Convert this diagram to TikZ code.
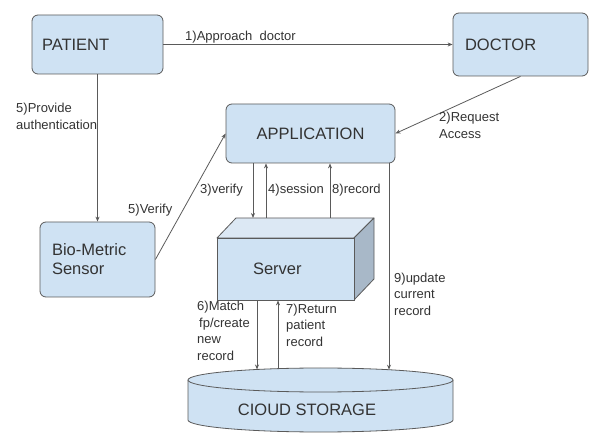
\documentclass[tikz,border=0pt]{standalone}
\usepackage{fontspec}
\setmainfont{Liberation Sans}
\usetikzlibrary{arrows.meta}
\definecolor{boxblue}{HTML}{CFE2F3}
\definecolor{topblue}{HTML}{DCE8F4}
\definecolor{sideblue}{HTML}{A8B8C8}
\definecolor{edgegray}{HTML}{5A5A5A}
\definecolor{txtgray}{HTML}{333333}
\tikzset{
  box/.style={draw=edgegray, fill=boxblue, line width=0.8pt, rounded corners=6pt,
    font=\fontsize{16.5}{19}\selectfont, text=txtgray, align=left, inner ysep=0pt},
  arr/.style={draw=edgegray, line width=0.8pt, -{Stealth[length=5pt,width=4pt]}},
  lbl/.style={font=\fontsize{13}{16.5}\selectfont, text=txtgray, align=left, inner sep=0pt, anchor=west},
  solid3d/.style={draw=edgegray, line width=0.8pt, line join=round}
}
\begin{document}
\begin{tikzpicture}[x=1pt,y=-1pt]
\useasboundingbox (0,0) rectangle (589,435);
% boxes
\node[box, minimum height=59pt, inner xsep=10pt, text width=111pt] (pat) at (97.5,44.5) {PATIENT};
\node[box, minimum height=63pt, inner xsep=12pt, text width=111pt] (doc) at (520.5,44.5) {DOCTOR};
\node[box, minimum height=59pt, minimum width=169pt, align=center] (app) at (310.5,133.5) {APPLICATION};
\node[box, minimum height=75pt, inner xsep=12pt, text width=91pt] (bio) at (97.5,259.5) {Bio-Metric\\Sensor};
% server cuboid
\draw[solid3d, fill=topblue] (217,238) -- (236,218) -- (374,218) -- (354,238) -- cycle;
\draw[solid3d, fill=sideblue] (354,238) -- (374,218) -- (374,279) -- (354,300) -- cycle;
\node[box, rounded corners=0pt, minimum height=62pt, inner xsep=36pt, text width=65pt] (srv) at (285.5,269) {Server};
\coordinate (srvtop) at (300,218);
% cloud storage cylinder
\fill[boxblue] (188,380) -- (188,420) arc[start angle=180,end angle=360,x radius=132.5pt,y radius=12pt] -- (453,380) -- cycle;
\draw[solid3d] (188,380) -- (188,420) arc[start angle=180,end angle=360,x radius=132.5pt,y radius=12pt] -- (453,380);
\draw[solid3d, fill=boxblue] (320.5,380) ellipse [x radius=132.5pt, y radius=12pt];
\node[font=\fontsize{16.5}{19}\selectfont, text=txtgray] (cloud) at (307,410) {CIOUD STORAGE};
\coordinate (c6) at (257,369.5);
\coordinate (c7) at (278,368.6);
\coordinate (c9) at (389,369.7);
\coordinate (v3) at (253,0);
\coordinate (v4) at (266,0);
\coordinate (v8) at (330,0);
% connectors
\draw[arr] (pat) -- (doc);
\draw[arr] (doc.south) -- (app.east);
\draw[arr] (pat.south) -- (bio.north);
\draw[arr] (bio.east) -- (app.west);
\draw[arr] (app.south -| v3) -- (srvtop -| v3);
\draw[arr] (srvtop -| v4) -- (app.south -| v4);
\draw[arr] (srvtop -| v8) -- (app.south -| v8);
\draw[arr] (app.south -| c9) -- (c9);
\draw[arr] (srv.south -| c6) -- (c6);
\draw[arr] (c7) -- (srv.south -| c7);
% labels
\node[lbl] (l1) at (185,37) {1)Approach\ \ doctor};
\node[lbl] (l2) at (439,125.5) {2)Request\\Access};
\node[lbl] (l5p) at (16,116.5) {5)Provide\\authentication};
\node[lbl] (l5v) at (128,210) {5)Verify};
\node[lbl] (l3) at (200,190) {3)verify};
\node[lbl] (l4) at (268,190) {4)session};
\node[lbl] (l8) at (332,190) {8)record};
\node[lbl] (l9) at (394,294) {9)update\\current\\record};
\node[lbl] (l6) at (197,331) {6)Match\\\hspace{2pt}fp/create\\new\\record};
\node[lbl] (l7) at (286,325) {7)Return\\patient\\record};
\end{tikzpicture}
\end{document}
